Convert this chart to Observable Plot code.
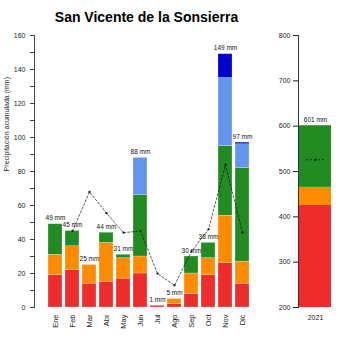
<!DOCTYPE html>
<html>
<head>
<meta charset="utf-8">
<script src="https://cdn.jsdelivr.net/npm/d3@7"></script>
<script src="https://cdn.jsdelivr.net/npm/@observablehq/plot@0.6"></script>
<style>
  html, body { margin: 0; padding: 0; background: #fff; }
  #wrap { width: 350px; height: 350px; overflow: hidden; font-family: "Liberation Sans", Arial, sans-serif; }
  #title { height: 28px; width: 293px; text-align: center; font-weight: bold; font-size: 14px; line-height: 14px; padding-top: 10px; box-sizing: border-box; color: #000; }
  #row { display: flex; flex-direction: row; }
  svg { display: block; }
</style>
</head>
<body>
<div id="wrap">
  <div id="title">San Vicente de la Sonsierra</div>
  <div id="row"></div>
</div>
<script>
const months = ["Ene","Feb","Mar","Abr","May","Jun","Jul","Ago","Sep","Oct","Nov","Dic"];
const seriesNames = ["rojo","naranja","verde","azulClaro","azulOscuro"];
const seriesColors = ["#EE2C2C","#FF8C00","#228B22","#6495ED","#0000CD"];
const rojo       = [19,22,14,15,17,20,1,2,8,19,26,14];
const naranja    = [12,14,11,23,12,10,0,3,12,10,28,13];
const verde      = [18,9,0,6,2,36,0,0,10,9,41,55];
const azulClaro  = [0,0,0,0,0,22,0,0,0,0,40,14];
const azulOscuro = [0,0,0,0,0,0,0,0,0,0,14,1];
const normalMensual = [null,45,68,55.5,44,45,20,13,33,46,84,44];
const yTitle = "Precipitación acumulada (mm)";

const anio = "2021";
const anualValores = [425, 40, 136];
const anualSeries = ["rojo","naranja","verde"];
const anualTotal = 601;
const anualNormal = 526;

const seriesArrays = [rojo, naranja, verde, azulClaro, azulOscuro];
const long = [];
seriesNames.forEach((s, si) => months.forEach((m, i) => long.push({month: m, cat: s, value: seriesArrays[si][i]})));
const totals = months.map((m, i) => ({month: m, total: seriesArrays.reduce((a, arr) => a + arr[i], 0)}));
const normal = months.map((m, i) => ({month: m, v: normalMensual[i]}));

const font = "Liberation Sans, Arial, sans-serif";

const left = Plot.plot({
  width: 270, height: 322,
  marginLeft: 34, marginTop: 7, marginBottom: 43, marginRight: 14,
  style: {fontFamily: font, background: "white", color: "#222"},
  x: {type: "band", domain: months, range: [42.25, 253.65], paddingInner: 0.19, paddingOuter: 0},
  y: {domain: [0, 160]},
  color: {domain: seriesNames, range: seriesColors},
  marks: [
    Plot.barY(long, {x: "month", y: "value", fill: "cat", stroke: "white", strokeWidth: 0.4, strokeOpacity: 0.6}),
    Plot.line(normal, {x: "month", y: "v", stroke: "#111", strokeWidth: 0.7, strokeDasharray: "2,2"}),
    Plot.dot(normal.filter(d => d.v != null), {x: "month", y: "v", r: 1.1, fill: "#111"}),
    Plot.text(totals, {x: "month", y: "total", text: d => d.total + " mm", dy: -6, fontSize: 6.5, fill: "#111"}),
    Plot.axisY({ticks: d3.range(0, 161, 10), tickFormat: d => d % 20 === 0 ? d : "", tickSize: 4, tickPadding: 5, fontSize: 7, label: null, stroke: "#444"}),
    Plot.axisX({tickRotate: -90, tickSize: 0, tickPadding: 7, fontSize: 7.5, label: null}),
    Plot.frame({anchor: "left", stroke: "#444"}),
    Plot.text([yTitle], {frameAnchor: "left", rotate: -90, dx: -28, fontSize: 7, fill: "#222"})
  ]
});

const anual = anualValores.map((v, i) => ({x: anio, cat: anualSeries[i], value: v}));
const right = Plot.plot({
  width: 80, height: 322,
  marginLeft: 28, marginTop: 7, marginBottom: 43, marginRight: 5,
  style: {fontFamily: font, background: "white", color: "#222"},
  x: {type: "band", domain: [anio], range: [29, 61], padding: 0},
  y: {domain: [200, 800]},
  color: {domain: seriesNames, range: seriesColors},
  marks: [
    Plot.barY(anual, {x: "x", y: "value", fill: "cat", clip: true}),
    Plot.tickY([anualNormal], {x: () => anio, y: d => d, insetLeft: 7, insetRight: 7, stroke: "#111", strokeWidth: 0.7, strokeDasharray: "2,2"}),
    Plot.dot([anualNormal], {x: () => anio, y: d => d, r: 1.1, fill: "#111"}),
    Plot.text([anualTotal], {x: () => anio, y: d => d, text: d => d + " mm", dy: -6, fontSize: 6.5, fill: "#111"}),
    Plot.axisY({ticks: d3.range(200, 801, 100), tickSize: 5, tickPadding: 3, fontSize: 7, label: null}),
    Plot.axisX({tickSize: 0, tickPadding: 8, fontSize: 7, label: null}),
    Plot.frame({anchor: "left", stroke: "#333"})
  ]
});

document.getElementById("row").append(left, right);
</script>
</body>
</html>
